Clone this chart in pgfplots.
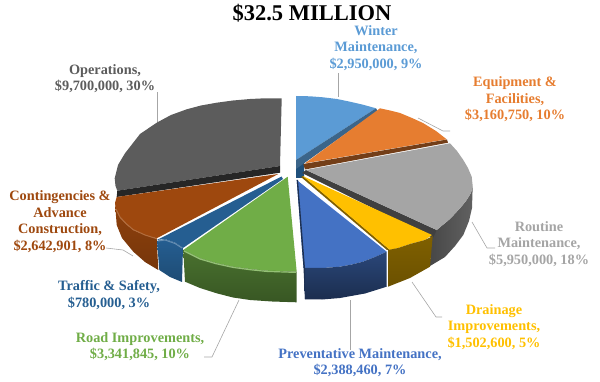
\documentclass[border=0pt]{standalone}
\usepackage{pgfplots}
\pgfplotsset{compat=1.18}
\usepackage{fontspec}
\setmainfont{Liberation Serif}
\newcommand{\lab}[5]{\node[text=#4,align=center,font=\bfseries\fontsize{#5}{16.5}\selectfont,inner sep=0pt] at (axis cs:#1,#2) {#3};}
\definecolor{cW}{HTML}{5B9BD5}\definecolor{cE}{HTML}{E67D30}\definecolor{cR}{HTML}{A5A5A5}
\definecolor{cD}{HTML}{FFC000}\definecolor{cP}{HTML}{4472C4}\definecolor{cG}{HTML}{70AD47}
\definecolor{cT}{HTML}{255E91}\definecolor{cC}{HTML}{9E480E}\definecolor{cO}{HTML}{5C5C5C}
\begin{document}
\begin{tikzpicture}
\useasboundingbox (0,0) rectangle (600pt,382pt);
\begin{axis}[at={(0,0)},anchor=south west,scale only axis,width=600pt,height=382pt,
  xmin=0,xmax=600,ymin=0,ymax=382,y dir=reverse,hide axis,clip=false,
  every axis plot/.append style={draw=none,no markers}]
% leader lines
\addplot[draw=black!35,line width=.6pt] coordinates {(338,73)(338,97)};
\addplot[draw=black!35,line width=.6pt] coordinates {(418,118)(443,131)(450,131)};
\addplot[draw=black!35,line width=.6pt] coordinates {(472,222)(487,248)(495,248)};
\addplot[draw=black!35,line width=.6pt] coordinates {(412,282)(436,317)(442,317)};
\addplot[draw=black!35,line width=.6pt] coordinates {(350,300)(350,350)};
\addplot[draw=black!35,line width=.6pt] coordinates {(239,300)(212,357)(204,357)};
\addplot[draw=black!35,line width=.6pt] coordinates {(106,248)(123,250)(133,256)};
\addplot[draw=black!35,line width=.6pt] coordinates {(157,92)(157,124)};
% Operations
\addplot[fill=cO] coordinates {(281.7,98.3)(265,98.3)(250,99)(233,100.5)(216.7,102.7)(201,105.5)(186.7,109.3)(171,115)(156.7,122.7)(140,134)(125,153.3)(118,165)(114.7,178.3)(115.5,186)(117.3,190.7)(280,166)};
\addplot[fill=black!85] coordinates {(117.3,190.7)(280,166)(280,172.7)(116.7,197)};
% Winter
\addplot[fill=cT!85!black] coordinates {(296,165)(304,160)(304,178)(296,178)};
\addplot[fill=cW] coordinates {(296,96)(310,96.3)(323,97.3)(337,99)(350,101.7)(363,104.7)(376,108.3)(296,160)};
\addplot[fill=cW!65!black] coordinates {(296,160)(376,108.3)(377.5,111)(296,169)};
% Equipment
\addplot[fill=cE] coordinates {(305,163.3)(380,108.3)(390,110.5)(400,113)(412,118)(423,123)(436,131)(446.7,139.3)};
\addplot[fill=cE!50!black] coordinates {(303.3,164)(447,139.5)(448,142.7)(305,169.5)};
% Routine
\addplot[shade,left color=black!72,right color=black!62,draw=none] coordinates {(472.7,186)(471,193)(466,201)(460,208.3)(450,219)(436.7,230)(432,235)(430,266)(445,257)(455,246)(463.3,235)(469,221)(472,208)};
\addplot[fill=black!75] coordinates {(302,173)(306,170)(436.7,230)(433,238)};
\addplot[fill=cR] coordinates {(306,170)(450,143.3)(457,151)(463.3,160)(468,168)(471.7,176.7)(472.7,186)(471,193)(466,201)(460,208.3)(450,219)(436.7,230)};
% Drainage
\addplot[fill=cD!50!black] coordinates {(301,177)(303,176)(390,250)(387,250)};
\addplot[fill=cD] coordinates {(302.7,176)(432,235)(425,240)(410,244)(398,248)(390,250)};
\addplot[shade,top color=cD!50!black,bottom color=cD!42!black] coordinates {(388,250)(398,248)(410,244)(425,240)(432.7,236)(430,266.7)(410,278)(388,286.7)};
% Preventative
\addplot[fill=cP] coordinates {(296.7,180)(386.7,251.7)(375,257)(363,261.7)(352,264.5)(340,266.7)(323,268)(306,268.3)(303.5,268)};
\addplot[shade,top color=cP!62!black,bottom color=cP!40!black] coordinates {(304,268)(323,268)(340,266.7)(352,264.5)(363,261.7)(375,257)(386.7,251.7)(386.7,286.7)(365,293.5)(340,298)(322,299.5)(305,299.3)};
\addplot[fill=cP!42!black] coordinates {(296.7,180)(298,180)(305,268)(305,299.3)(303.5,268)};
% Road
\addplot[fill=cG] coordinates {(287.7,176.7)(296.7,271.7)(266.7,270.7)(250,269)(233,266.7)(216,263)(200,258.3)(183.3,250)};
\addplot[shade,top color=cG!65!black,bottom color=cG!50!black] coordinates {(183.3,250)(200,258.3)(216,263)(233,266.7)(250,269)(266.7,270.7)(296.7,271.7)(296.7,302.3)(272,301.5)(250,300)(233,297.5)(216.7,293.3)(200,288)(185,281.7)};
\addplot[draw=cG!75!white,line width=1.2pt] coordinates {(184,251)(200,259)(216,263.7)(233,267.4)(250,269.7)(266.7,271.4)(296,272.4)};
% Contingencies
\addplot[shade,top color=cC!90!black,bottom color=cC!75!black] coordinates {(115,203)(116,210)(120,218)(126,224)(133,230)(145,235)(156.7,238.3)(158.3,270)(145,262)(133.3,251.7)(122,238)(116.7,225)};
\addplot[fill=cC] coordinates {(278.3,174)(116.7,197)(115,203)(116,210)(120,218)(126,224)(133,230)(145,235)(156.7,238.3)};
\addplot[draw=cC!80!white,line width=1pt] coordinates {(116,209)(120,217)(126,223.5)(133,229.5)(145,235)(156,238.5)};
% Traffic
\addplot[shade,top color=cT,bottom color=cT!80!black] coordinates {(157,241)(165,239)(176,243)(183,248)(182,282)(170,277)(159.3,270)};
\addplot[fill=cT] coordinates {(281.5,176.5)(283,179)(183,248)(176,243)(165,239)(157,240)};
\addplot[draw=cT!70!white,line width=1pt] coordinates {(158,241)(165,240)(175,243.5)(182,248)};
% text
\lab{312}{13}{\$32.5 MILLION}{black}{22.5}
\lab{376}{48}{Winter\\Maintenance,\\\$2,950,000, 9\%}{cW}{14.3}
\lab{515}{99.5}{Equipment \&\\Facilities,\\\$3,160,750, 10\%}{cE}{14.3}
\lab{539}{244}{Routine\\Maintenance,\\\$5,950,000, 18\%}{cR}{14.3}
\lab{494}{327}{Drainage\\Improvements,\\\$1,502,600, 5\%}{cD}{14.3}
\lab{360}{362.5}{Preventative Maintenance,\\\$2,388,460, 7\%}{cP}{14.3}
\lab{140}{346.5}{Road Improvements,\\\$3,341,845, 10\%}{cG}{14.3}
\lab{109}{295}{Traffic \& Safety,\\\$780,000, 3\%}{cT}{14.3}
\lab{60}{221.5}{Contingencies \&\\Advance\\Construction,\\\$2,642,901, 8\%}{cC}{14.3}
\lab{105}{78.5}{Operations,\\\$9,700,000, 30\%}{cO}{14.3}
\end{axis}
\end{tikzpicture}
\end{document}
